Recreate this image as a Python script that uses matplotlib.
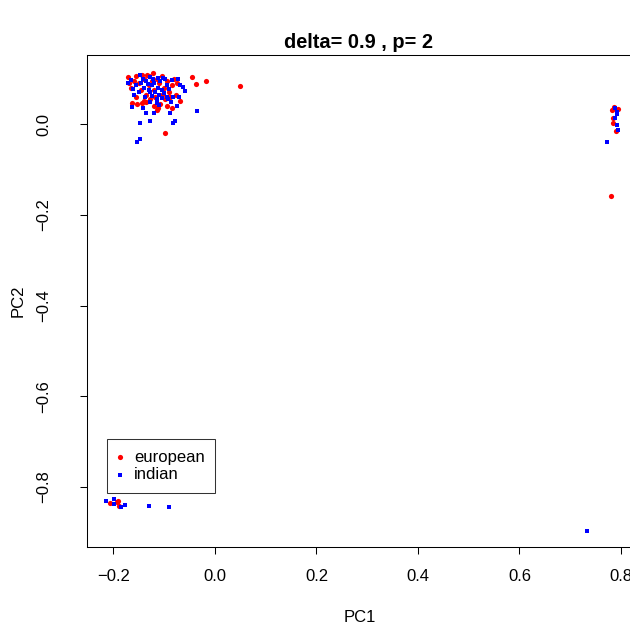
import matplotlib
matplotlib.use("Agg")
import matplotlib.pyplot as plt
import numpy as np

plt.rcParams['font.family'] = ['Liberation Sans', 'DejaVu Sans']

# PC scores
eu_pc1 = [-0.171, -0.156, -0.144, -0.133, -0.122, -0.046, -0.037, -0.018, 0.049,
          -0.077, -0.069, -0.164, -0.154, -0.144, -0.136, -0.115, -0.112, -0.085,
          -0.099, -0.160, -0.150, -0.140, -0.130, -0.125, -0.120, -0.115, -0.110,
          -0.105, -0.100, -0.095, -0.090, -0.135, -0.145, -0.155, -0.165, -0.128,
          -0.118, -0.108, -0.098, -0.085, -0.080, -0.075, -0.140, -0.120, -0.130,
          -0.170, -0.105, -0.095, -0.088,
          0.786, 0.795, 0.782, 0.785, 0.785, 0.790, 0.780,
          -0.206, -0.193, -0.189, -0.191]
eu_pc2 = [0.104, 0.106, 0.108, 0.108, 0.112, 0.104, 0.088, 0.095, 0.084,
          0.064, 0.051, 0.046, 0.044, 0.046, 0.048, 0.031, 0.035, 0.036,
          -0.019, 0.095, 0.090, 0.100, 0.085, 0.095, 0.075, 0.100, 0.090,
          0.065, 0.080, 0.095, 0.070, 0.065, 0.075, 0.060, 0.080, 0.055,
          0.060, 0.045, 0.055, 0.085, 0.100, 0.090, 0.050, 0.040, 0.105,
          0.090, 0.105, 0.040, 0.060,
          0.038, 0.033, 0.031, 0.013, 0.002, -0.015, -0.158,
          -0.836, -0.834, -0.842, -0.831]

in_pc1 = [-0.171, -0.166, -0.148, -0.128, -0.112, -0.102, -0.085, -0.072, -0.069,
          -0.064, -0.059, -0.095, -0.082, -0.070, -0.087, -0.075, -0.110, -0.115,
          -0.128, -0.164, -0.142, -0.136, -0.120, -0.089, -0.035, -0.129, -0.148,
          -0.079, -0.082, -0.148, -0.153,
          -0.155, -0.145, -0.140, -0.135, -0.130, -0.125, -0.120, -0.118, -0.112,
          -0.108, -0.104, -0.100, -0.095, -0.090, -0.150, -0.160, -0.138, -0.125,
          -0.115, -0.132, -0.122, -0.110, -0.142, -0.162, -0.092, -0.098, -0.128,
          -0.105,
          0.792, 0.788, 0.792, 0.788, 0.792, 0.795, 0.773,
          -0.214, -0.199, -0.199, -0.185, -0.177, -0.131, -0.091,
          0.734]
in_pc2 = [0.090, 0.097, 0.108, 0.104, 0.101, 0.101, 0.097, 0.099, 0.086,
          0.082, 0.073, 0.060, 0.060, 0.059, 0.048, 0.040, 0.042, 0.046,
          0.049, 0.037, 0.035, 0.025, 0.025, 0.025, 0.029, 0.007, 0.003,
          0.007, 0.002, -0.032, -0.039,
          0.085, 0.090, 0.080, 0.095, 0.075, 0.085, 0.090, 0.070, 0.080,
          0.095, 0.075, 0.068, 0.085, 0.078, 0.070, 0.065, 0.060, 0.062,
          0.055, 0.088, 0.100, 0.065, 0.100, 0.078, 0.055, 0.100, 0.070,
          0.058,
          0.027, 0.035, 0.022, 0.013, -0.002, -0.013, -0.040,
          -0.830, -0.827, -0.837, -0.845, -0.840, -0.842, -0.845,
          -0.898]

xticks = [-0.2, 0.0, 0.2, 0.4, 0.6, 0.8]
yticks = [-0.8, -0.6, -0.4, -0.2, 0.0]

fig = plt.figure(figsize=(6.3, 6.29), dpi=100)
ax = fig.add_axes([87 / 630, 82 / 629, 548 / 630, 492 / 629])

ax.scatter(eu_pc1, eu_pc2, s=14, c='#ff0000', marker='o', linewidths=0, label='european')
ax.scatter(in_pc1, in_pc2, s=11, c='#0000ff', marker='s', linewidths=0, label='indian')

ax.set_xlim(-0.2522, 0.8276)
ax.set_ylim(-0.9322, 0.1521)

ax.set_xticks(xticks)
ax.set_xticklabels([f"{v:.1f}".replace('-', '\u2212') for v in xticks])
ax.set_yticks(yticks)
ax.set_yticklabels([f"{v:.1f}".replace('-', '\u2212') for v in yticks],
                   rotation=90, va='center')
ax.tick_params(axis='x', length=5, width=0.75, pad=11, labelsize=12)
ax.tick_params(axis='y', length=5, width=0.75, pad=21, labelsize=12)
for sp in ax.spines.values():
    sp.set_linewidth(0.75)
ax.spines['right'].set_visible(False)

leg = ax.legend(loc='upper left', bbox_to_anchor=(0.0367, 0.2195),
                fontsize=12, frameon=True, fancybox=False, edgecolor='black',
                borderpad=0.65, handletextpad=0.65, markerscale=1.0,
                borderaxespad=0, handlelength=0.3, labelspacing=0.15)
leg.get_frame().set_linewidth(0.75)

fig.text(358 / 630, 1 - 42 / 629, "delta= 0.9 , p= 2", ha='center', va='center',
         fontsize=14.4, fontweight='bold')
fig.text(360 / 630, 1 - 617 / 629, "PC1", ha='center', va='center', fontsize=12)
fig.text(18 / 630, 1 - 301 / 629, "PC2", ha='center', va='center', fontsize=12,
         rotation=90)

fig.savefig("out.png", dpi=100)
